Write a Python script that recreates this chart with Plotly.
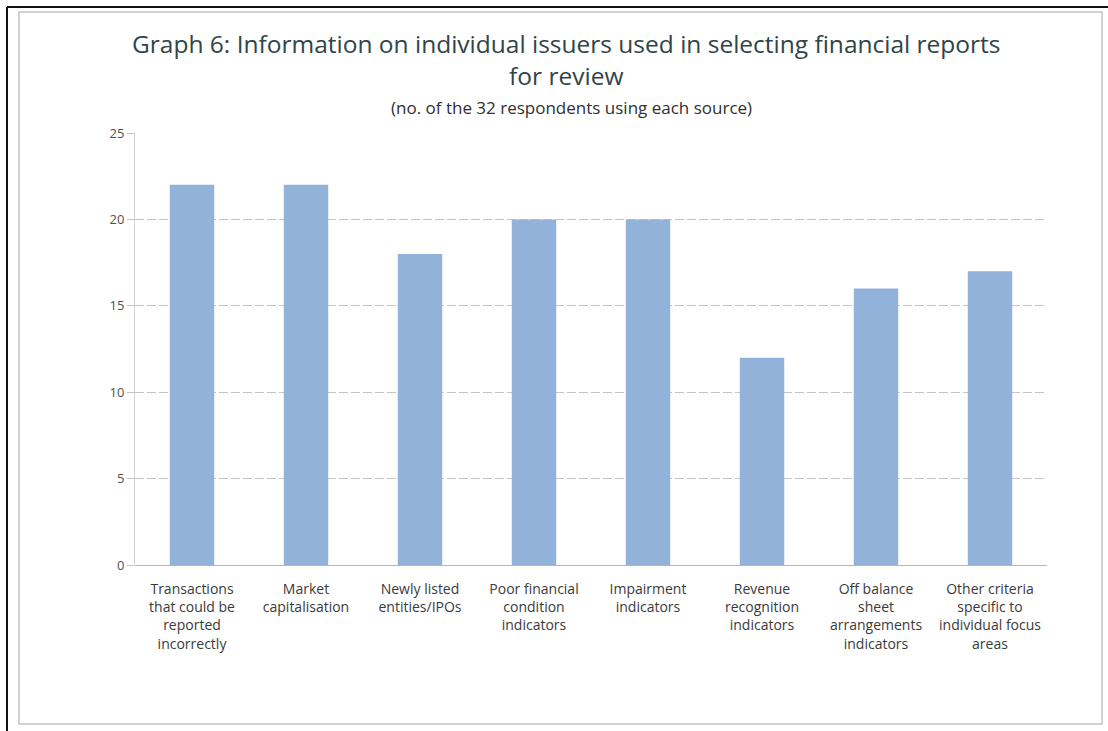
import plotly.graph_objects as go

categories = [
    "Transactions<br>that could be<br>reported<br>incorrectly",
    "Market<br>capitalisation",
    "Newly listed<br>entities/IPOs",
    "Poor financial<br>condition<br>indicators",
    "Impairment<br>indicators",
    "Revenue<br>recognition<br>indicators",
    "Off balance<br>sheet<br>arrangements<br>indicators",
    "Other criteria<br>specific to<br>individual focus<br>areas",
]
respondents = [22, 22, 18, 20, 20, 12, 16, 17]
y_ticks = [0, 5, 10, 15, 20, 25]

W, H = 1108, 731
L, R, T, B = 135, 61, 133, 166
pw, ph = W - L - R, H - T - B


def px(x):
    return (x - L) / pw


def py(y):
    return (H - B - y) / ph


font_family = "'Open Sans', sans-serif"

fig = go.Figure(
    go.Bar(
        x=categories,
        y=respondents,
        marker=dict(color="#93b2d9", line=dict(width=0)),
        width=0.39,
    )
)

fig.update_layout(
    width=W,
    height=H,
    margin=dict(l=L, r=R, t=T, b=B),
    paper_bgcolor="white",
    plot_bgcolor="white",
    showlegend=False,
    font=dict(family=font_family, color="#404040", size=12),
    xaxis=dict(
        showgrid=False,
        ticks="",
        tickfont=dict(size=14, color="#3a3a3a"),
        ticklabelstandoff=14,
        showline=False,
        tickangle=0,
    ),
    yaxis=dict(
        range=[0, 25],
        tickvals=y_ticks,
        showgrid=True,
        gridcolor="#c4c4c4",
        gridwidth=1,
        griddash="9px,3px",
        zeroline=True,
        zerolinecolor="#b5b5b5",
        zerolinewidth=1,
        tickfont=dict(size=13, color="#505050"),
        ticks="outside",
        ticklen=7,
        tickcolor="#c4c4c4",
        showline=True,
        linecolor="#d0d0d0",
        linewidth=1,
    ),
    annotations=[
        dict(
            text="Graph 6: Information on individual issuers used in selecting financial reports<br>for review",
            x=px(566), y=py(59), xref="paper", yref="paper",
            showarrow=False, xanchor="center", yanchor="middle",
            font=dict(size=24.5, color="#2f4548", family=font_family),
        ),
        dict(
            text="(no. of the 32 respondents using each source)",
            x=px(571), y=py(108), xref="paper", yref="paper",
            showarrow=False, xanchor="center", yanchor="middle",
            font=dict(size=17, color="#303030", family=font_family),
        ),
    ],
    shapes=[
        # light chart-area frame
        dict(type="rect", xref="paper", yref="paper",
             x0=px(19), x1=px(1102), y0=py(724), y1=py(12),
             line=dict(color="#c4c4c4", width=1.5), layer="below"),
        # dark page border on the left and top
        dict(type="line", xref="paper", yref="paper",
             x0=px(7), x1=px(7), y0=py(7), y1=py(731),
             line=dict(color="#111111", width=2)),
        dict(type="line", xref="paper", yref="paper",
             x0=px(7), x1=px(1108), y0=py(7), y1=py(7),
             line=dict(color="#111111", width=2)),
    ],
)

fig.write_html("out.html")
